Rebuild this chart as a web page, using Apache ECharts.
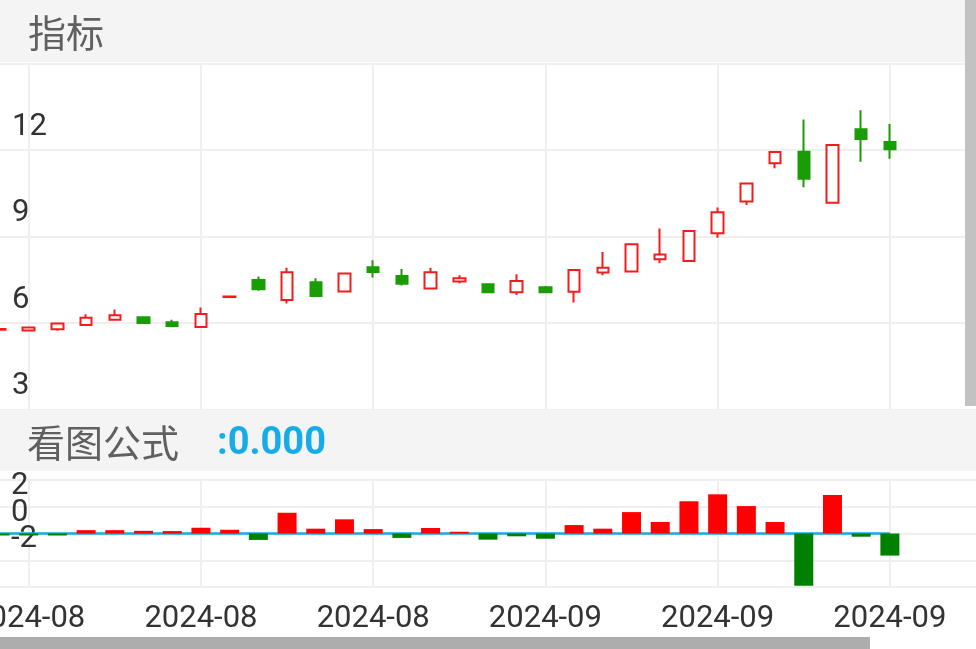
<!DOCTYPE html>
<html>
<head>
<meta charset="utf-8">
<title>指标</title>
<style>
  html, body { margin: 0; padding: 0; background: #fff; }
  #chart { width: 976px; height: 649px; }
</style>
<script src="https://cdn.jsdelivr.net/npm/echarts/dist/echarts.min.js"></script>
</head>
<body>
<div id="chart"></div>
<script>
// 交易日
const dates = [
  '2024-08-06', '2024-08-07', '2024-08-08', '2024-08-09', '2024-08-12', '2024-08-13',
  '2024-08-14', '2024-08-15', '2024-08-16', '2024-08-19', '2024-08-20', '2024-08-21',
  '2024-08-22', '2024-08-23', '2024-08-26', '2024-08-27', '2024-08-28', '2024-08-29',
  '2024-08-30', '2024-09-02', '2024-09-03', '2024-09-04', '2024-09-05', '2024-09-06',
  '2024-09-09', '2024-09-10', '2024-09-11', '2024-09-12', '2024-09-13', '2024-09-18',
  '2024-09-19', '2024-09-20'
]
// 右侧留白的空位
const emptySlots = 3

// K线数据
const openPrices = [5.77, 5.74, 5.78, 5.93, 6.11, 6.20, 6.03, 5.86, 6.90, 7.49, 6.80, 7.41, 7.09, 7.93, 7.63, 7.20,
  7.44, 7.34, 7.07, 7.24, 7.08, 7.75, 7.79, 8.21, 8.15, 9.11, 10.21, 11.54, 11.94, 10.17, 12.72, 12.28]
const closePrices = [5.79, 5.84, 5.98, 6.18, 6.27, 6.00, 5.90, 6.31, 6.92, 7.17, 7.76, 6.94, 7.72, 7.77, 7.36, 7.76,
  7.55, 7.07, 7.46, 7.07, 7.84, 7.92, 8.73, 8.38, 9.19, 9.84, 10.84, 11.93, 11.00, 12.17, 12.38, 12.03]
const lowPrices = [5.76, 5.73, 5.73, 5.92, 6.10, 5.99, 5.89, 5.85, 6.90, 7.12, 6.68, 6.94, 7.08, 7.58, 7.30, 7.17,
  7.38, 7.07, 6.97, 7.03, 6.71, 7.66, 7.76, 8.07, 8.14, 8.96, 10.09, 11.37, 10.71, 10.16, 11.59, 11.70]
const highPrices = [5.80, 5.88, 5.99, 6.30, 6.47, 6.21, 6.11, 6.54, 6.92, 7.61, 7.92, 7.55, 7.73, 8.18, 7.87, 7.92,
  7.66, 7.37, 7.69, 7.28, 7.85, 8.46, 8.74, 9.28, 9.20, 10.01, 10.85, 11.94, 13.06, 12.18, 13.38, 12.90]

// 看图公式 柱
const formulaBars = [-0.15, -0.15, -0.15, 0.25, 0.25, 0.2, 0.18, 0.43, 0.28, -0.48, 1.55, 0.36, 1.06, 0.33, -0.33, 0.41,
  0.13, -0.46, -0.21, -0.39, 0.63, 0.36, 1.6, 0.86, 2.41, 2.93, 2.05, 0.86, -3.9, 2.88, -0.24, -1.65]
// 看图公式 线
const formulaLine = [0, 0, 0, 0, 0, 0, 0, 0, 0, 0, 0, 0, 0, 0, 0, 0,
  0, 0, 0, 0, 0, 0, 0, 0, 0, 0, 0, 0, 0, 0, 0, 0]

// 副图刻度（挤在一起，分两根轴画，避免互相隐藏）
const lowerTickValues = [4, 0]
const lowerTickLabels = ['2', '-2']
const lowerMidTickValues = [2]
const lowerMidTickLabels = ['0']

const red = '#f21c1c'
const green = '#1a9c04'
const gridColor = '#efefef'

const categories = dates.concat(new Array(emptySlots).fill(''))
const kData = openPrices.map((o, i) => [o, closePrices[i], lowPrices[i], highPrices[i]])
const barData = formulaBars.map(v => ({
  value: v,
  itemStyle: { color: v >= 0 ? '#ff0000' : '#008000' }
}))

// 每6根一条竖线
const everySix = (index) => index % 6 === 1

const pickLabel = (values, labels) => (v) => {
  const i = values.indexOf(v)
  return i >= 0 ? labels[i] : ''
}

const lowerLabel = {
  inside: true,
  margin: 11,
  showMinLabel: true,
  showMaxLabel: true,
  hideOverlap: false,
  fontSize: 31,
  lineHeight: 12,
  verticalAlign: 'top',
  color: '#333'
}

const myChart = echarts.init(document.getElementById('chart'))
const option = {
  animation: false,
  textStyle: { fontFamily: 'Roboto, "Noto Sans CJK SC", sans-serif' },
  grid: [
    { left: 0, right: 0, top: 63.5, height: 346, outerBoundsMode: 'none', containLabel: false },
    { left: 0, right: 0, top: 480, height: 107, outerBoundsMode: 'none', containLabel: false }
  ],
  xAxis: [
    {
      type: 'category',
      gridIndex: 0,
      data: categories,
      boundaryGap: false,
      axisLine: { show: false },
      axisTick: { show: false },
      axisLabel: { show: false },
      splitLine: { show: true, interval: everySix, lineStyle: { color: gridColor, width: 2 } }
    },
    {
      type: 'category',
      gridIndex: 1,
      data: categories,
      boundaryGap: false,
      axisLine: { show: false },
      axisTick: { show: false },
      axisLabel: {
        interval: everySix,
        formatter: (v) => v.slice(0, 7),
        fontSize: 31,
        lineHeight: 31,
        color: '#333',
        margin: 17,
        hideOverlap: false
      },
      splitLine: { show: true, interval: everySix, lineStyle: { color: gridColor, width: 2 } }
    }
  ],
  yAxis: [
    {
      type: 'value',
      gridIndex: 0,
      position: 'left',
      min: 3,
      max: 15,
      interval: 3,
      axisLine: { show: false },
      axisTick: { show: false },
      axisLabel: {
        inside: true,
        margin: 12,
        showMinLabel: true,
        showMaxLabel: false,
        fontSize: 31,
        // 标签画在网格线上方
        lineHeight: 46,
        verticalAlign: 'bottom',
        color: '#333'
      },
      splitLine: { lineStyle: { color: gridColor, width: 2 } }
    },
    {
      type: 'value',
      gridIndex: 1,
      position: 'left',
      min: -4,
      max: 4,
      interval: 2,
      axisLine: { show: false },
      axisTick: { show: false },
      axisLabel: Object.assign({ formatter: pickLabel(lowerTickValues, lowerTickLabels) }, lowerLabel),
      splitLine: { lineStyle: { color: gridColor, width: 2 } }
    },
    {
      type: 'value',
      gridIndex: 1,
      position: 'left',
      offset: 0,
      min: -4,
      max: 4,
      interval: 2,
      axisLine: { show: false },
      axisTick: { show: false },
      axisLabel: Object.assign({ formatter: pickLabel(lowerMidTickValues, lowerMidTickLabels) }, lowerLabel),
      splitLine: { show: false }
    }
  ],
  series: [
    {
      name: '指标',
      type: 'candlestick',
      xAxisIndex: 0,
      yAxisIndex: 0,
      barWidth: 12,
      data: kData,
      itemStyle: {
        color: '#fff',
        borderColor: red,
        color0: green,
        borderColor0: green,
        borderWidth: 2
      }
    },
    {
      name: '看图公式',
      type: 'line',
      xAxisIndex: 1,
      yAxisIndex: 1,
      data: formulaLine,
      showSymbol: false,
      z: 1,
      lineStyle: { color: '#17a9e1', width: 2.5 }
    },
    {
      name: '看图公式柱',
      type: 'bar',
      xAxisIndex: 1,
      yAxisIndex: 1,
      barWidth: 19,
      z: 3,
      data: barData
    }
  ],
  graphic: [
    { type: 'rect', z: 100, shape: { x: 0, y: 0, width: 976, height: 62 }, style: { fill: '#f4f4f4' } },
    {
      type: 'text', z: 101, x: 28, y: 33,
      style: { text: '指标', font: '38px "Noto Sans CJK SC"', fill: '#606060', verticalAlign: 'middle' }
    },
    { type: 'rect', z: 100, shape: { x: 0, y: 410, width: 976, height: 61 }, style: { fill: '#f4f4f4' } },
    {
      type: 'text', z: 101, x: 27, y: 443,
      style: { text: '看图公式', font: '38px "Noto Sans CJK SC"', fill: '#606060', verticalAlign: 'middle' }
    },
    {
      type: 'text', z: 101, x: 217, y: 444,
      style: { text: ':0.000', font: 'bold 38px Roboto', fill: '#16ace6', verticalAlign: 'middle' }
    },
    // 滚动条
    { type: 'rect', z: 102, shape: { x: 965, y: 0, width: 11, height: 406 }, style: { fill: '#c2c2c2' } },
    { type: 'rect', z: 102, shape: { x: 0, y: 637, width: 870, height: 12 }, style: { fill: '#adadad' } }
  ]
}

myChart.setOption(option)
window.addEventListener('resize', function () {
  myChart.resize()
})
</script>
</body>
</html>
